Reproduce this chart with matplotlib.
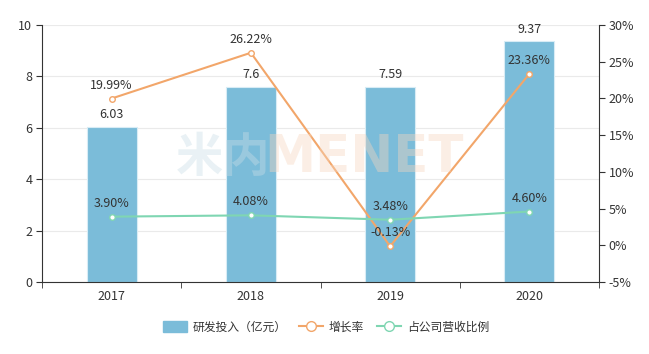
import matplotlib
matplotlib.use("Agg")
import matplotlib.pyplot as plt
from matplotlib.lines import Line2D
from matplotlib.patches import Patch
import numpy as np

plt.rcParams['font.family'] = ['Noto Sans CJK SC', 'DejaVu Sans']

years = ['2017', '2018', '2019', '2020']
rd_invest = [6.03, 7.6, 7.59, 9.37]
growth = [19.99, 26.22, -0.13, 23.36]
share = [3.90, 4.08, 3.48, 4.60]
bar_labels = ['6.03', '7.6', '7.59', '9.37']

bar_color = '#7bbcd9'
orange = '#f2a66a'
green = '#7fd6b2'
axis_color = '#333333'
text_color = '#333333'

W, H = 649, 354
fig = plt.figure(figsize=(W/100, H/100), dpi=100)
ax = fig.add_axes([42/W, 1-282/H, (599-42)/W, (282-25)/H])
ax2 = ax.twinx()

x = np.arange(len(years))
ax.bar(x, rd_invest, width=0.36, color=bar_color, edgecolor='#d8ecf5', linewidth=0.8, zorder=2)
for xi, v, lab in zip(x, rd_invest, bar_labels):
    ax.annotate(lab, (xi, v), xytext=(0, 4), textcoords='offset points',
                ha='center', va='bottom', fontsize=9, color=text_color, zorder=5)

ax.set_xlim(-0.5, 3.5)
ax.set_ylim(0, 10)
ax.set_yticks([0, 2, 4, 6, 8, 10])
ax.set_xticks(x)
ax.set_xticklabels(years)
ax.set_xticks([-0.5, 0.5, 1.5, 2.5, 3.5], minor=True)
ax.tick_params(axis='x', which='major', length=0, pad=6, labelsize=9, labelcolor=text_color)
ax.tick_params(axis='x', which='minor', length=4, color=axis_color, direction='out')
ax.tick_params(axis='y', length=4, color=axis_color, labelsize=9, labelcolor=text_color, pad=3)
ax.grid(axis='y', color='#eaeaea', linewidth=0.8, zorder=0)
ax.set_axisbelow(True)
for s in ['top', 'right']:
    ax.spines[s].set_visible(False)
ax.spines['left'].set_color(axis_color)
ax.spines['bottom'].set_color(axis_color)

# watermark
fig.text(176/W, 1-158/H, '米内', fontsize=34, color='#c9dde6', alpha=0.4,
         fontweight='bold', va='center', ha='left', zorder=1)
fig.text(264/W, 1-158/H, 'MENET', fontsize=37, color='#f7d6bf', alpha=0.4,
         fontweight='bold', va='center', ha='left', zorder=1,
         family=['DejaVu Sans'])

ax2.set_ylim(-5, 30)
ax2.set_yticks([-5, 0, 5, 10, 15, 20, 25, 30])
ax2.set_yticklabels([f'{t}%' for t in [-5, 0, 5, 10, 15, 20, 25, 30]])
ax2.tick_params(axis='y', length=4, color=axis_color, labelsize=9, labelcolor=text_color, pad=3)
for s in ['top', 'left', 'bottom']:
    ax2.spines[s].set_visible(False)
ax2.spines['right'].set_color(axis_color)

ax2.plot(x, growth, color=orange, linewidth=1.5, marker='o', markersize=4,
         markerfacecolor='white', markeredgecolor=orange, markeredgewidth=1, zorder=4)
ax2.plot(x, share, color=green, linewidth=1.5, marker='o', markersize=4,
         markerfacecolor='white', markeredgecolor=green, markeredgewidth=1, zorder=4)
for xi, v in zip(x, growth):
    ax2.annotate(f'{v:.2f}%', (xi, v), xytext=(0, 5), textcoords='offset points',
                 ha='center', va='bottom', fontsize=9, color=text_color, zorder=5)
for xi, v in zip(x, share):
    ax2.annotate(f'{v:.2f}%', (xi, v), xytext=(0, 5), textcoords='offset points',
                 ha='center', va='bottom', fontsize=9, color=text_color, zorder=5)

handles = [
    Patch(facecolor=bar_color, edgecolor=bar_color, label='研发投入（亿元）'),
    Line2D([0], [0], color=orange, linewidth=1.5, marker='o', markersize=7,
           markerfacecolor='white', markeredgecolor=orange, label='增长率'),
    Line2D([0], [0], color=green, linewidth=1.5, marker='o', markersize=7,
           markerfacecolor='white', markeredgecolor=green, label='占公司营收比例'),
]
fig.legend(handles=handles, loc='center', bbox_to_anchor=(326/W, 1-327/H), ncol=3,
           frameon=False, fontsize=8.5, handlelength=2.0, handleheight=1.0,
           columnspacing=1.1, handletextpad=0.5, labelcolor=text_color)

fig.savefig('out.png', dpi=100)
